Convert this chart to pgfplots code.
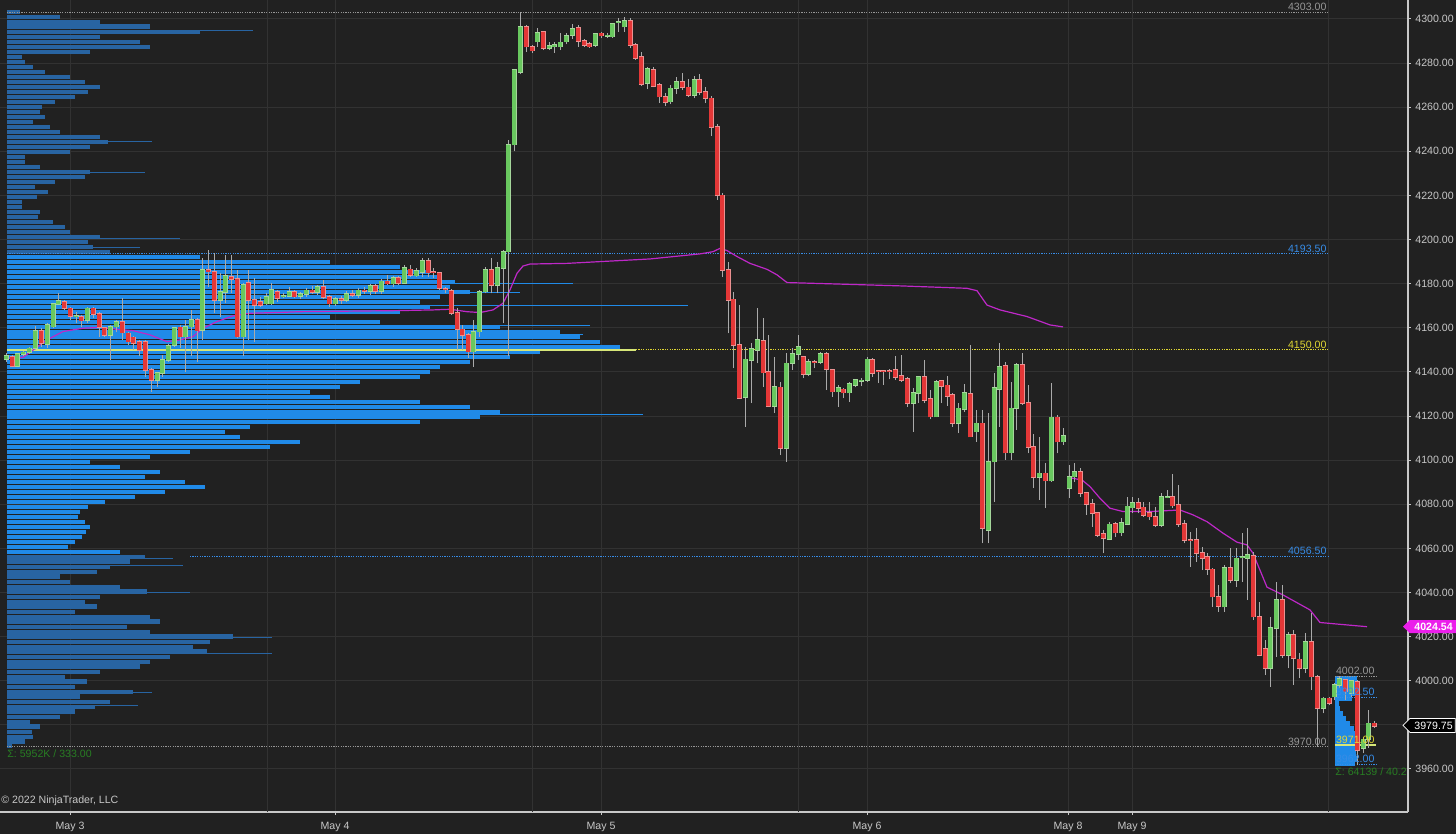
\documentclass[border=0pt]{standalone}
\usepackage{fontspec}
\setmainfont{Liberation Sans}
\usepackage{pgfplots}
\usepackage{pgfplotstable}
\pgfplotsset{compat=1.18}

\definecolor{bg}{RGB}{33,33,33}
\definecolor{gridc}{RGB}{50,50,50}
\definecolor{axisc}{RGB}{200,200,200}
\definecolor{labelc}{RGB}{200,200,200}
\definecolor{vablue}{RGB}{32,138,232}
\definecolor{problue}{RGB}{40,100,162}
\definecolor{cgreen}{RGB}{105,200,95}
\definecolor{cgreenl}{RGB}{165,215,155}
\definecolor{cred}{RGB}{228,55,55}
\definecolor{credl}{RGB}{235,145,145}
\definecolor{wick}{RGB}{170,170,170}
\definecolor{vwap}{RGB}{190,40,200}
\definecolor{levgray}{RGB}{150,150,150}
\definecolor{levblue}{RGB}{55,140,230}
\definecolor{levyel}{RGB}{225,215,50}
\definecolor{pocyel}{RGB}{215,230,120}
\definecolor{sigc}{RGB}{40,125,35}
\definecolor{tagm}{RGB}{235,30,235}

\newcommand\tf{\fontsize{5.3}{6}\selectfont}

% candles: x in screen units, open high low close
\pgfplotstableread{
x o h l c
6 4145.7 4148.5 4144.5 4147.2
12 4146.9 4147.7 4142.1 4142.7
17 4142.7 4148.6 4142.2 4148.1
23 4148.1 4149.5 4147.2 4148.9
29 4148.9 4151.5 4148.0 4150.7
35 4150.7 4160.8 4149.9 4158.7
41 4158.7 4159.8 4151.5 4153.0
47 4152.5 4162.0 4150.7 4161.3
53 4160.5 4171.1 4159.8 4170.8
58 4170.8 4175.6 4170.3 4172.2
64 4171.9 4172.6 4168.1 4168.8
70 4168.8 4169.6 4163.6 4165.3
76 4165.3 4167.3 4162.0 4165.5
81 4164.8 4165.8 4160.5 4163.3
87 4163.6 4169.6 4162.0 4168.8
93 4168.8 4169.6 4164.3 4166.3
99 4166.3 4167.3 4156.0 4160.2
104 4159.8 4160.5 4156.0 4156.8
110 4156.8 4161.3 4145.4 4160.5
116 4160.5 4163.6 4158.3 4162.8
122 4162.8 4173.4 4154.5 4157.8
128 4157.5 4158.3 4152.2 4153.7
133 4155.7 4156.3 4149.9 4153.0
139 4153.7 4154.5 4147.0 4149.9
145 4153.7 4154.5 4137.8 4140.9
151 4140.9 4141.6 4131.0 4136.4
157 4136.4 4140.0 4133.0 4139.4
162 4139.4 4147.7 4137.8 4145.4
168 4145.4 4152.7 4144.6 4151.8
174 4152.0 4160.5 4151.5 4159.8
180 4160.2 4161.3 4150.7 4156.0
185 4156.0 4163.6 4140.1 4160.5
191 4160.5 4168.1 4147.0 4163.6
197 4163.6 4164.3 4144.6 4158.7
202 4159.0 4191.5 4154.5 4186.2
208 4186.2 4195.3 4178.7 4185.5
214 4185.5 4193.8 4166.6 4172.6
220 4172.6 4184.7 4165.1 4176.4
225 4176.1 4193.0 4171.1 4183.5
231 4183.2 4193.0 4175.6 4182.1
237 4182.0 4186.2 4155.3 4156.0
243 4156.0 4180.2 4147.0 4179.4
248 4180.2 4186.2 4154.5 4172.6
254 4172.6 4182.4 4153.7 4170.3
260 4171.9 4174.1 4169.6 4170.3
266 4171.0 4175.6 4170.3 4174.1
271 4171.0 4180.2 4170.3 4177.2
277 4176.4 4177.2 4171.9 4173.4
283 4174.1 4175.6 4173.4 4174.3
289 4174.4 4178.7 4174.1 4176.4
294 4176.4 4177.2 4173.4 4174.1
300 4174.5 4176.4 4173.0 4175.2
306 4175.2 4178.0 4174.0 4177.0
312 4177.0 4179.0 4175.5 4176.0
317 4176.0 4179.5 4175.0 4178.5
323 4178.5 4181.5 4173.0 4174.0
329 4174.0 4175.0 4169.5 4171.0
335 4171.0 4174.0 4170.0 4173.0
341 4173.0 4174.5 4171.0 4172.5
346 4172.5 4176.5 4171.5 4175.5
352 4175.5 4177.0 4174.0 4174.8
358 4174.8 4178.0 4173.5 4177.0
364 4177.0 4178.5 4175.5 4176.5
370 4176.5 4180.0 4175.0 4179.0
375 4179.0 4180.0 4175.5 4176.5
381 4176.5 4182.0 4175.5 4181.0
387 4181.0 4184.0 4179.5 4180.0
393 4180.0 4183.5 4178.5 4182.5
398 4182.5 4183.5 4179.5 4180.2
404 4180.2 4188.6 4180.2 4187.0
410 4186.5 4188.5 4183.2 4184.0
416 4183.7 4187.0 4183.2 4185.8
422 4185.2 4191.5 4183.2 4190.4
428 4190.4 4191.5 4183.2 4185.0
433 4185.3 4187.0 4182.4 4185.0
439 4185.0 4185.5 4177.2 4177.9
445 4177.7 4178.7 4175.6 4177.3
451 4176.8 4177.5 4165.8 4166.6
457 4166.6 4168.8 4149.9 4159.3
462 4159.3 4161.3 4149.9 4156.7
468 4156.7 4157.5 4146.2 4149.2
473 4149.2 4163.5 4142.4 4158.3
479 4158.3 4177.2 4156.0 4176.4
485 4176.4 4187.7 4175.6 4186.2
491 4186.2 4191.5 4175.6 4179.4
497 4179.4 4190.0 4175.6 4187.0
503 4187.0 4195.3 4162.0 4194.5
508 4194.5 4245.0 4147.0 4243.0
514 4243.0 4277.5 4240.0 4276.9
520 4276.0 4303.0 4275.0 4296.5
526 4296.5 4297.3 4285.2 4287.5
532 4287.5 4288.0 4284.7 4285.6
537 4289.7 4295.8 4287.5 4293.8
543 4294.0 4294.5 4285.9 4286.7
549 4286.7 4289.7 4285.9 4287.9
554 4287.5 4289.7 4284.7 4288.4
560 4287.5 4293.5 4285.9 4289.4
566 4289.7 4293.8 4288.5 4292.4
572 4292.8 4297.6 4290.8 4295.5
578 4295.8 4297.3 4287.5 4290.0
584 4290.0 4291.0 4287.5 4288.2
589 4288.8 4289.4 4287.0 4287.5
595 4288.0 4293.8 4287.5 4293.2
601 4293.5 4294.0 4291.2 4292.4
607 4292.3 4293.5 4291.2 4292.5
612 4292.0 4297.9 4291.5 4297.6
618 4298.6 4300.3 4294.3 4298.8
624 4296.5 4301.0 4294.3 4299.2
630 4299.2 4300.3 4286.7 4288.2
635 4288.2 4289.0 4281.4 4282.2
641 4282.9 4285.2 4269.6 4270.5
647 4270.8 4278.4 4268.1 4277.2
653 4276.9 4278.4 4269.0 4269.6
659 4270.0 4271.0 4262.0 4264.8
665 4264.8 4266.5 4260.5 4262.3
670 4262.5 4270.0 4261.5 4268.5
676 4268.5 4273.5 4266.0 4271.5
682 4271.5 4275.5 4268.0 4269.0
688 4269.0 4273.0 4264.5 4265.5
694 4265.5 4274.0 4264.0 4272.5
699 4272.5 4275.0 4265.5 4267.0
705 4267.0 4269.0 4262.0 4264.0
711 4264.0 4265.0 4247.0 4251.0
717 4251.0 4252.5 4218.0 4220.0
722 4220.0 4221.0 4183.0 4186.2
728 4186.2 4190.0 4157.5 4172.6
733 4172.9 4176.0 4141.6 4152.2
739 4152.2 4170.3 4128.0 4128.0
745 4128.5 4151.5 4115.2 4145.7
751 4145.4 4153.0 4125.8 4150.3
757 4150.0 4168.8 4143.9 4154.5
763 4154.0 4164.3 4133.3 4139.7
768 4140.1 4156.7 4124.3 4124.6
774 4124.6 4146.9 4121.5 4133.3
780 4133.0 4135.6 4102.4 4105.4
786 4105.4 4148.4 4099.3 4143.9
792 4143.9 4150.7 4140.9 4148.1
798 4148.1 4156.7 4145.4 4151.5
803 4146.9 4146.9 4137.1 4139.0
808 4139.0 4146.0 4138.0 4144.6
814 4144.6 4145.4 4141.6 4144.4
820 4144.6 4149.0 4143.5 4148.1
826 4148.1 4149.2 4131.8 4141.2
832 4140.9 4140.9 4128.8 4131.1
838 4131.1 4134.1 4124.3 4132.6
843 4132.1 4132.6 4128.0 4130.6
849 4130.6 4135.6 4126.5 4134.5
855 4134.1 4137.0 4133.0 4136.3
861 4136.0 4137.1 4133.4 4136.2
867 4136.3 4146.9 4135.6 4145.7
872 4145.4 4146.2 4137.8 4139.4
878 4140.6 4140.9 4134.9 4140.4
883 4140.4 4140.6 4134.1 4140.3
889 4140.6 4141.2 4136.6 4140.5
895 4140.9 4147.2 4136.3 4137.6
901 4138.2 4147.7 4135.6 4136.3
907 4136.9 4137.8 4124.0 4125.8
913 4125.8 4132.6 4112.9 4130.6
918 4130.3 4138.0 4125.8 4137.8
924 4137.8 4145.4 4125.8 4127.3
930 4127.6 4131.8 4118.5 4119.7
936 4119.7 4136.3 4119.4 4135.6
941 4136.0 4136.3 4125.8 4133.6
947 4133.9 4138.2 4124.6 4129.1
952 4129.5 4130.3 4115.2 4116.7
958 4116.7 4125.8 4112.2 4123.5
964 4123.0 4134.4 4122.0 4130.6
970 4130.0 4152.2 4110.7 4110.7
976 4112.9 4122.7 4108.4 4116.7
982 4116.7 4122.7 4062.3 4069.1
988 4068.4 4121.2 4062.3 4099.3
994 4099.3 4139.4 4081.2 4132.6
999 4132.1 4153.0 4115.2 4142.4
1005 4142.7 4144.6 4100.1 4103.4
1011 4103.4 4135.6 4100.1 4123.5
1016 4123.5 4143.9 4113.7 4143.2
1022 4143.2 4148.7 4125.0 4125.8
1028 4126.0 4134.1 4103.1 4105.8
1033 4106.1 4111.9 4087.3 4092.2
1039 4092.2 4110.7 4082.0 4094.0
1045 4094.0 4098.6 4078.2 4090.7
1051 4090.7 4134.9 4090.3 4119.4
1057 4119.4 4120.5 4103.1 4108.4
1063 4108.4 4114.4 4106.9 4111.0
1069 4087.2 4097.8 4082.7 4092.5
1074 4092.5 4098.9 4090.3 4094.8
1080 4094.8 4096.3 4083.5 4085.0
1086 4085.0 4085.7 4075.2 4080.1
1092 4080.1 4082.3 4069.9 4075.9
1097 4076.2 4076.7 4065.3 4066.1
1103 4066.4 4068.4 4057.8 4064.6
1109 4064.1 4072.1 4063.8 4070.9
1115 4071.1 4072.1 4065.3 4067.2
1121 4067.2 4073.7 4065.6 4071.7
1127 4071.1 4083.5 4070.6 4079.0
1132 4078.5 4083.5 4075.9 4080.5
1138 4080.5 4082.7 4075.9 4078.2
1143 4078.6 4081.2 4074.4 4075.2
1149 4076.2 4081.2 4072.9 4074.4
1155 4074.4 4078.9 4069.9 4070.6
1161 4070.6 4085.0 4069.9 4083.2
1167 4083.2 4086.5 4082.7 4083.4
1172 4083.2 4093.8 4078.2 4079.4
1178 4079.7 4088.8 4069.9 4071.1
1184 4071.1 4072.9 4062.3 4063.8
1190 4064.0 4067.6 4051.7 4063.8
1196 4063.8 4069.1 4054.0 4057.8
1202 4058.1 4060.8 4050.2 4055.5
1207 4056.0 4057.8 4048.0 4050.5
1212 4050.5 4051.0 4033.6 4038.1
1218 4038.1 4043.4 4031.3 4033.9
1224 4033.6 4052.5 4031.3 4051.0
1230 4051.0 4060.1 4044.2 4045.7
1236 4045.7 4060.1 4042.7 4055.5
1242 4055.8 4066.9 4044.9 4056.0
1247 4055.5 4069.1 4036.6 4057.0
1253 4056.6 4058.5 4027.6 4029.1
1259 4029.1 4035.9 4011.7 4011.7
1265 4014.3 4018.5 4002.6 4005.6
1270 4005.6 4029.1 3997.3 4023.8
1276 4023.8 4044.9 4010.9 4036.6
1282 4036.6 4043.4 4010.2 4011.7
1288 4011.7 4022.3 4005.6 4020.8
1293 4020.8 4023.1 3998.1 4010.2
1299 4009.7 4012.5 4001.1 4005.6
1305 4005.6 4021.5 4003.4 4017.7
1311 4017.7 4030.6 3995.8 4001.9
1317 4001.9 4002.6 3970.1 3987.5
1323 3987.5 3992.8 3985.2 3992.0
1329 3992.0 3992.8 3989.0 3989.8
1334 3992.8 3998.9 3991.3 3998.1
1339 3998.1 4002.2 3996.6 4000.8
1345 4000.4 4001.0 3991.3 3995.1
1351 3994.3 4000.4 3992.8 3999.9
1357 3999.6 4000.4 3961.8 3968.6
1363 3969.4 3974.6 3967.1 3973.4
1368 3973.4 3986.8 3969.4 3980.7
1374 3980.7 3981.9 3978.5 3979.6
}\candles

% volume profile: price level p, right end w (screen x)
\pgfplotstableread{
p w
4303.2 20
4300.9 60
4298.6 100
4296.4 150
4294.1 200
4291.8 100
4289.6 140
4287.3 150
4285.0 90
4282.8 22
4280.5 25
4278.2 33
4276.0 45
4273.7 70
4271.4 85
4269.2 100
4266.9 88
4264.6 75
4262.4 55
4260.1 42
4257.8 40
4255.6 45
4253.3 33
4251.0 50
4248.8 60
4246.5 100
4244.2 108
4242.0 90
4239.7 70
4237.4 25
4235.2 25
4232.9 40
4230.6 90
4228.4 85
4226.1 55
4223.8 35
4221.6 48
4219.3 37
4217.0 22
4214.8 22
4212.5 40
4210.2 38
4208.0 53
4205.7 65
4203.4 70
4201.2 100
4198.9 88
4196.6 93
4194.4 110
4056.1 145
4053.9 130
4051.6 110
4049.3 97
4047.1 60
4044.8 70
4042.5 120
4040.3 147
4038.0 100
4035.7 85
4033.5 97
4031.2 75
4028.9 150
4026.7 160
4024.4 127
4022.1 150
4019.9 233
4017.6 210
4015.3 193
4013.1 207
4010.8 170
4008.5 150
4006.3 140
4004.0 100
4001.7 65
3999.5 87
3997.2 75
3994.9 133
3992.7 80
3990.4 110
3988.1 95
3985.9 75
3983.6 60
3981.3 30
3979.1 40
3976.8 32
3974.5 33
3972.3 25
3970.4 12
}\proOut

\pgfplotstableread{
p w
4192.1 200
4189.8 330
4187.6 400
4185.3 430
4183.0 440
4180.8 455
4178.5 450
4176.2 470
4174.0 440
4171.7 420
4169.4 430
4167.2 400
4164.9 330
4162.6 380
4160.4 500
4158.1 560
4155.8 580
4153.6 600
4151.3 620
4149.0 540
4146.8 510
4144.5 470
4142.2 440
4140.0 430
4137.7 420
4135.4 360
4133.2 340
4130.9 310
4128.6 330
4126.4 420
4124.1 470
4121.8 500
4119.6 480
4117.3 420
4115.0 250
4112.8 225
4110.5 240
4108.2 300
4106.0 270
4103.7 190
4101.4 150
4099.2 90
4096.9 120
4094.6 160
4092.4 145
4090.1 185
4087.8 205
4085.6 165
4083.3 135
4081.0 105
4078.8 88
4076.5 80
4074.2 78
4072.0 85
4069.7 90
4067.4 86
4065.2 82
4062.9 75
4060.6 68
4058.4 120
}\proVA

\pgfplotstableread{
p w
4295.0 253
4297.3 150
4244.6 152
4230.2 145
4200.7 180
4196.2 140
4055.6 173
4052.4 183
4040.0 190
4019.6 272
4012.4 272
3994.6 152
3988.8 138
}\proOutLines

\pgfplotstableread{
p w
4180.3 573
4176.2 520
4170.3 688
4161.0 590
4157.1 583
4120.5 643
}\proVALines

% small profile of the last session (starts at x=1335)
\pgfplotstableread{
p w
4001.0 1357
3998.7 1357
3996.5 1356
3994.2 1357
3991.9 1352
3989.7 1339
3987.4 1340
3985.1 1343
3982.9 1346
3980.6 1350
3978.3 1354
3976.1 1357
3973.8 1357
3971.5 1357
3969.3 1357
3967.0 1356
3964.7 1357
3962.5 1355
}\proSmall

\begin{document}
\begin{tikzpicture}
\useasboundingbox (0,0) rectangle (728pt,417pt);
\fill[bg] (0,0) rectangle (728pt,417pt);
\begin{axis}[
  at={(0pt,11pt)}, anchor=south west,
  scale only axis, width=704pt, height=406pt,
  xmin=0, xmax=1408, ymin=3940.5, ymax=4308.6,
  clip=false,
  axis x line*=bottom, axis y line*=right,
  axis line style={draw=axisc, line width=0.6pt, -},
  every outer x axis line/.append style={-},
  every outer y axis line/.append style={-},
  ytick={3960,3980,...,4300},
  xtick={70,335,601,867,1068,1132},
  xticklabels={May 3,May 4,May 5,May 6,May 8,May 9},
  extra x ticks={267,532,798,1328},
  extra x tick labels={,,,},
  extra x tick style={major tick length=0pt, grid=major},
  xmajorgrids=true, ymajorgrids=true,
  grid style={draw=gridc, line width=0.5pt},
  tick align=outside, major tick length=1.5pt,
  tick style={draw=axisc, line width=0.5pt},
  scaled y ticks=false,
  /pgf/number format/assume math mode=true,
  yticklabel style={font=\tf, text=labelc, inner sep=1pt, xshift=1pt,
    /pgf/number format/fixed, /pgf/number format/fixed zerofill,
    /pgf/number format/precision=2, /pgf/number format/1000 sep={}},
  xticklabel style={font=\tf, text=labelc, inner sep=1pt, yshift=-2.5pt},
  error bars/error mark=none,
]

% volume profile (outside and inside the value area)
\addplot[draw=none, mark=none, error bars/.cd, x dir=plus, x explicit,
  error bar style={draw=problue, line width=2.35pt}]
  table[x expr=7, y=p, x error expr=\thisrow{w}-7] \proOut;
\addplot[draw=none, mark=none, error bars/.cd, x dir=plus, x explicit,
  error bar style={draw=vablue, line width=2.35pt}]
  table[x expr=7, y=p, x error expr=\thisrow{w}-7] \proVA;
\addplot[draw=none, mark=none, error bars/.cd, x dir=plus, x explicit,
  error bar style={draw=problue, line width=0.45pt}]
  table[x expr=7, y=p, x error expr=\thisrow{w}-7] \proOutLines;
\addplot[draw=none, mark=none, error bars/.cd, x dir=plus, x explicit,
  error bar style={draw=vablue, line width=0.45pt}]
  table[x expr=7, y=p, x error expr=\thisrow{w}-7] \proVALines;
\addplot[draw=none, mark=none, error bars/.cd, x dir=plus, x explicit,
  error bar style={draw=vablue, line width=2.35pt}]
  table[x expr=1335, y=p, x error expr=\thisrow{w}-1335] \proSmall;

% level lines
\addplot[levgray, line width=0.5pt, dash pattern=on 0.6pt off 0.6pt] coordinates {(7,4303) (1328,4303)};
\addplot[levblue, line width=0.5pt, dash pattern=on 0.6pt off 0.6pt] coordinates {(7,4193.5) (1328,4193.5)};
\addplot[pocyel, line width=0.8pt] coordinates {(7,4150) (636,4150)};
\addplot[levyel, line width=0.5pt, dash pattern=on 0.6pt off 0.6pt] coordinates {(636,4150) (1328,4150)};
\addplot[levblue, line width=0.5pt, dash pattern=on 0.6pt off 0.6pt] coordinates {(190,4056.5) (1328,4056.5)};
\addplot[levgray, line width=0.5pt, dash pattern=on 0.6pt off 0.6pt] coordinates {(7,3970) (1328,3970)};
\addplot[levgray, line width=0.5pt, dash pattern=on 0.6pt off 0.6pt] coordinates {(1335,4002) (1376,4002)};
\addplot[levblue, line width=0.5pt, dash pattern=on 0.6pt off 0.6pt] coordinates {(1335,3992.5) (1376,3992.5)};
\addplot[pocyel, line width=0.8pt] coordinates {(1335,3971) (1376,3971)};
\addplot[levblue, line width=0.5pt, dash pattern=on 0.6pt off 0.6pt] coordinates {(1335,3962) (1376,3962)};

% VWAP lines
\addplot[vwap, line width=0.6pt] coordinates {
(7,4146.2) (23,4146.6) (33,4149.9) (47,4154.5) (63,4158.3) (83,4159.8) (100,4160.2)
(117,4159.3) (133,4158.7) (150,4156.8) (167,4153.7) (180,4154.5) (193,4156.0)
(203,4159.8) (217,4162.8) (233,4165.4) (250,4166.6) (283,4167.0) (300,4167.3)
(400,4167.8) (433,4168.1) (450,4168.4) (467,4167.3) (480,4166.9) (493,4168.1)
(503,4171.1) (510,4177.2) (517,4184.7) (523,4188.0) (530,4188.9) (567,4189.2)
(650,4191.2) (700,4193.5) (713,4194.5) (720,4196.0) (727,4195.0) (737,4192.3)
(750,4189.2) (767,4186.5) (777,4184.0) (787,4180.5) (833,4179.9) (900,4179.0)
(967,4177.9) (977,4176.8) (987,4170.3) (1000,4168.1) (1027,4165.1) (1050,4161.3)
(1063,4160.4)};
\addplot[vwap, line width=0.6pt] coordinates {
(1068,4092.2) (1082,4091.0) (1090,4088.0) (1100,4082.7) (1110,4078.2) (1123,4076.7)
(1150,4076.7) (1180,4077.4) (1193,4075.2) (1207,4072.1) (1223,4066.9) (1237,4062.8)
(1247,4061.6) (1253,4057.8) (1267,4042.4) (1283,4038.9) (1310,4032.1) (1320,4026.4)
(1337,4025.7) (1367,4024.5)};

% candles: wicks, body outlines, bodies
\addplot[draw=none, mark=none, error bars/.cd, y dir=plus, y explicit,
  error bar style={draw=wick, line width=0.5pt}]
  table[x=x, y=l, y error expr=\thisrow{h}-\thisrow{l}] \candles;
\addplot[draw=none, mark=none, restrict expr to domain={\thisrow{c}-\thisrow{o}}{0:500},
  error bars/.cd, y dir=plus, y explicit,
  error bar style={draw=cgreenl, line width=2.5pt}]
  table[x=x, y expr=\thisrow{o}-0.35, y error expr=\thisrow{c}-\thisrow{o}+0.7] \candles;
\addplot[draw=none, mark=none, restrict expr to domain={\thisrow{c}-\thisrow{o}}{-500:-0.001},
  error bars/.cd, y dir=plus, y explicit,
  error bar style={draw=credl, line width=2.5pt}]
  table[x=x, y expr=\thisrow{c}-0.35, y error expr=\thisrow{o}-\thisrow{c}+0.7] \candles;
\addplot[draw=none, mark=none, restrict expr to domain={\thisrow{c}-\thisrow{o}}{0:500},
  error bars/.cd, y dir=plus, y explicit,
  error bar style={draw=cgreen, line width=1.7pt}]
  table[x=x, y=o, y error expr=\thisrow{c}-\thisrow{o}] \candles;
\addplot[draw=none, mark=none, restrict expr to domain={\thisrow{c}-\thisrow{o}}{-500:-0.001},
  error bars/.cd, y dir=plus, y explicit,
  error bar style={draw=cred, line width=1.7pt}]
  table[x=x, y=c, y error expr=\thisrow{o}-\thisrow{c}] \candles;

% level labels
\begin{scope}[every node/.style={font=\tf, inner sep=0.6pt, anchor=south east}]
\node[text=levgray] at (axis cs:1328,4303) {4303.00};
\node[text=levblue] at (axis cs:1328,4193.5) {4193.50};
\node[text=levyel] at (axis cs:1328,4150) {4150.00};
\node[text=levblue] at (axis cs:1328,4056.5) {4056.50};
\node[text=levgray] at (axis cs:1328,3970) {3970.00};
\node[text=levgray] at (axis cs:1376,4002) {4002.00};
\node[text=levblue] at (axis cs:1376,3992.5) {3992.50};
\node[text=levyel] at (axis cs:1376,3971) {3971.00};
\node[text=levblue] at (axis cs:1376,3962) {3962.00};
\end{scope}
\node[font=\tf, text=sigc, anchor=west, inner sep=0pt] at (axis cs:7,3966.8) {Σ: 5952K / 333.00};
\node[font=\tf, text=sigc, anchor=west, inner sep=0pt] at (axis cs:1335,3958.6) {Σ: 64139 / 40.2};
\node[font=\tf, text=labelc, anchor=west, inner sep=0pt] at (axis cs:1,3945.5) {© 2022 NinjaTrader, LLC};

\coordinate (tagV) at (axis cs:1408,4024.54);
\coordinate (tagL) at (axis cs:1408,3979.75);
\end{axis}

\fill[tagm] ([xshift=-2.5pt]tagV) -- ([xshift=0.8pt,yshift=3.2pt]tagV) -- ([xshift=24pt,yshift=3.2pt]tagV)
  -- ([xshift=24pt,yshift=-3.2pt]tagV) -- ([xshift=0.8pt,yshift=-3.2pt]tagV) -- cycle;
\node[font=\tf\bfseries, text=white, inner sep=0pt] at ([xshift=12.8pt]tagV) {4024.54};
\filldraw[fill=black, draw=white, line width=0.4pt] ([xshift=-2.5pt]tagL) -- ([xshift=1pt,yshift=3.5pt]tagL)
  -- ([xshift=23.6pt,yshift=3.5pt]tagL) -- ([xshift=23.6pt,yshift=-3.5pt]tagL) -- ([xshift=1pt,yshift=-3.5pt]tagL) -- cycle;
\node[font=\tf, text=white, inner sep=0pt] at ([xshift=12.8pt]tagL) {3979.75};
\end{tikzpicture}
\end{document}
